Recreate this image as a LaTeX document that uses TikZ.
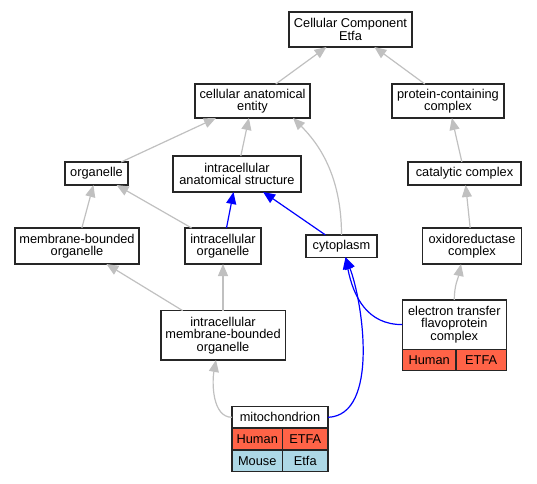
\documentclass[tikz,border=0pt]{standalone}
\usepackage{fontspec}
\setmainfont{Liberation Sans}
\usetikzlibrary{arrows.meta, calc}
\definecolor{cedge}{HTML}{C0C0C0}
\definecolor{cblue}{HTML}{0000FF}
\definecolor{chuman}{HTML}{FF6347}
\definecolor{cmouse}{HTML}{ADD8E6}
\tikzset{
  every picture/.style={x=1pt, y=-1pt},
  term/.style={draw=black!85, line width=1.3pt, fill=white, align=center, inner sep=0pt, outer sep=0pt,
    font=\fontsize{12.8}{12.4}\selectfont},
  cell/.style={term, fill=#1},
  isa/.style={-{Triangle[length=12pt, width=10pt]}, draw=cedge, line width=1.2pt},
  partof/.style={isa, draw=cblue},
}

\begin{document}
\begin{tikzpicture}
  \useasboundingbox (0,0) rectangle (537,483);
  % terms
  \node[term, minimum width=123pt, minimum height=35pt] (cc) at (350.5,29.5) {Cellular Component\\Etfa};
  \node[term, minimum width=115pt, minimum height=34pt] (cae) at (252.5,101) {cellular anatomical\\entity};
  \node[term, minimum width=112pt, minimum height=34pt] (pcc) at (448,101) {protein-containing\\complex};
  \node[term, minimum width=63pt, minimum height=23pt] (org) at (96.5,173.5) {organelle};
  \node[term, minimum width=128pt, minimum height=36pt] (ias) at (237,174) {intracellular\\anatomical structure};
  \node[term, minimum width=113pt, minimum height=23pt] (cat) at (464.5,173.5) {catalytic complex};
  \node[term, minimum width=124pt, minimum height=36pt] (mbo) at (77,246) {membrane-bounded\\organelle};
  \node[term, minimum width=76pt, minimum height=36pt] (io) at (223,246) {intracellular\\organelle};
  \node[term, minimum width=71pt, minimum height=22.3pt] (cyto) at (341.5,246) {cytoplasm};
  \node[term, minimum width=98.6pt, minimum height=36pt] (oxr) at (472,246) {oxidoreductase\\complex};
  \node[term, minimum width=124.3pt, minimum height=49.3pt] (imbo) at (223,335.3) {intracellular\\membrane-bounded\\organelle};
  % annotated terms with gene rows
  \node[term, minimum width=104pt, minimum height=49.3pt] (etf) at (454.3,324.6) {electron transfer\\flavoprotein\\complex};
  \node[cell=chuman, anchor=north west, minimum width=53.7pt, minimum height=21pt] (etfhs) at (etf.south west) {Human};
  \node[cell=chuman, anchor=north west, minimum width=50.3pt, minimum height=21pt] (etfhsg) at (etfhs.north east) {ETFA};
  \node[term, minimum width=96pt, minimum height=21.3pt] (mito) at (280,417.3) {mitochondrion};
  \node[cell=chuman, anchor=north west, minimum width=50.5pt, minimum height=22pt] (mitohs) at (mito.south west) {Human};
  \node[cell=chuman, anchor=north west, minimum width=45.5pt, minimum height=22pt] (mitohsg) at (mitohs.north east) {ETFA};
  \node[cell=cmouse, anchor=north west, minimum width=50.5pt, minimum height=21.7pt] (mitomm) at (mitohs.south west) {Mouse};
  \node[cell=cmouse, anchor=north west, minimum width=45.5pt, minimum height=21.7pt] (mitommg) at (mitomm.north east) {Etfa};
  % is_a edges
  \draw[isa] (cae) -- (cc);
  \draw[isa] (pcc) -- (cc);
  \draw[isa] (org) -- (cae);
  \draw[isa] (ias) -- (cae);
  \draw[isa] (cyto.north) .. controls +(0,-60) and +(25,25) .. ($(cae.south east)+(-17,0)$);
  \draw[isa] (cat) -- (pcc);
  \draw[isa] (mbo) -- (org);
  \draw[isa] (io) -- (org);
  \draw[isa] (oxr) -- (cat);
  \draw[isa] (etf.north) .. controls +(0,-15) and +(-3,15) .. ($(oxr.south)+(-11,0)$);
  \draw[isa] (imbo) -- (mbo);
  \draw[isa] (imbo) -- (io);
  \draw[isa] (mito.west) .. controls +(-20,0) and +(-4,22) .. ($(imbo.south)+(-7,0)$);
  % part_of edges
  \draw[partof] (io) -- (ias);
  \draw[partof] (cyto) -- (ias);
  \draw[partof] (etf.west) .. controls +(-35,0) and +(8,40) .. ($(cyto.south)+(4,0)$);
  \draw[partof] (mito.east) .. controls +(52,-2) and +(17,43) .. ($(cyto.south)+(4,0)$);
\end{tikzpicture}
\end{document}
